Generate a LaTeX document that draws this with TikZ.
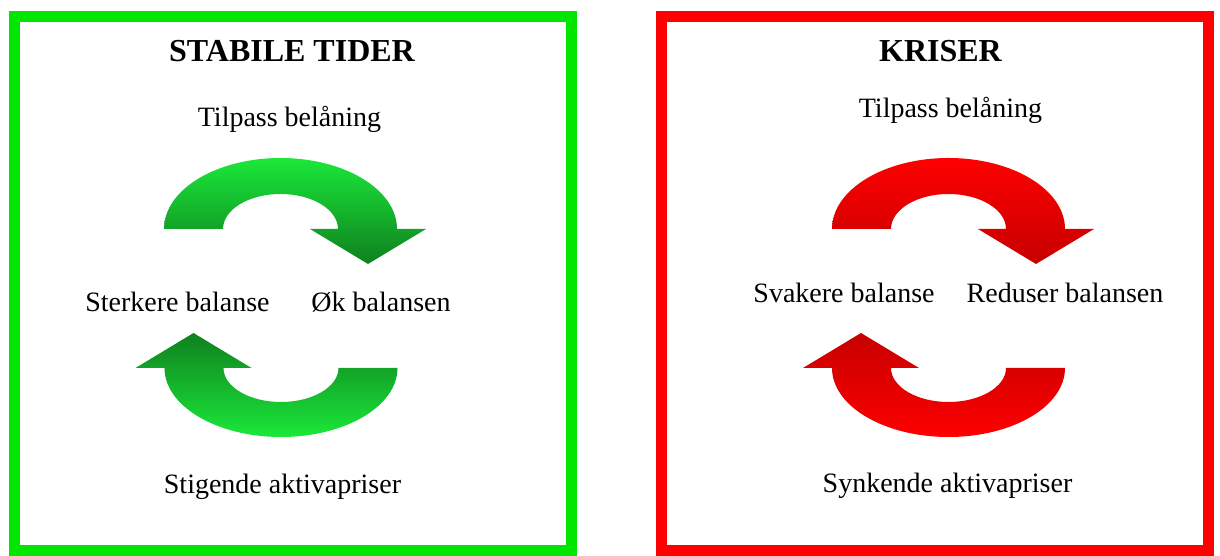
\documentclass[tikz,border=0pt]{standalone}
\usepackage{fontspec}
\setmainfont{Liberation Serif}
\definecolor{boxgreen}{RGB}{0,230,0}
\definecolor{boxred}{RGB}{255,0,0}
\definecolor{gLight}{RGB}{27,232,58}
\definecolor{gMid}{RGB}{25,216,53}
\definecolor{gDark}{RGB}{15,128,30}
\definecolor{rLight}{RGB}{255,0,0}
\definecolor{rMid}{RGB}{246,0,0}
\definecolor{rDark}{RGB}{198,0,0}
\tikzset{
  frame/.style={line width=11pt},
  label/.style={anchor=base, inner sep=0pt, font=\fontsize{28}{32}\selectfont},
  title/.style={anchor=base, inner sep=0pt, font=\fontsize{32}{36}\selectfont\bfseries},
  gdown/.style={top color=gLight, middle color=gMid, bottom color=gDark},
  gup/.style={top color=gDark, middle color=gMid, bottom color=gLight},
  rdown/.style={top color=rLight, middle color=rMid, bottom color=rDark},
  rup/.style={top color=rDark, middle color=rMid, bottom color=rLight},
}
\newcommand{\toparrow}[1]{%
  \shade[#1] (-116.5,0) arc[start angle=180,end angle=0,x radius=116.5,y radius=71]
    -- (145.5,0) -- (87.5,-35) -- (29.5,0) -- (57.5,0)
    arc[start angle=0,end angle=180,x radius=57.5,y radius=35] -- cycle;}
\newcommand{\bottomarrow}[1]{%
  \shade[#1] (116.5,0) arc[start angle=0,end angle=-180,x radius=116.5,y radius=69]
    -- (-145.5,0) -- (-87.5,35) -- (-29.5,0) -- (-57.5,0)
    arc[start angle=180,end angle=360,x radius=57.5,y radius=34] -- cycle;}
\begin{document}
\begin{tikzpicture}[x=1pt,y=1pt]
\useasboundingbox (0,0) rectangle (1220,556);
% frames
\draw[frame, boxgreen] (14,539) rectangle (571,5);
\draw[frame, boxred] (661,539) rectangle (1208,5);
% green panel
\node[title] (t1) at (292,494) {STABILE TIDER};
\node[label] (g1) at (289.5,429) {Tilpass belåning};
\node[label] (g2) at (177.5,244) {Sterkere balanse};
\node[label] (g3) at (381,244) {Øk balansen};
\node[label] (g4) at (282.5,62) {Stigende aktivapriser};
\begin{scope}[shift={(280.5,327)}]\toparrow{gdown}\end{scope}
\begin{scope}[shift={(281,188)}]\bottomarrow{gup}\end{scope}
% red panel
\node[title] (t2) at (940.5,494) {KRISER};
\node[label] (r1) at (950.5,438) {Tilpass belåning};
\node[label] (r2) at (844,253) {Svakere balanse};
\node[label] (r3) at (1065,253) {Reduser balansen};
\node[label] (r4) at (947.5,63) {Synkende aktivapriser};
\begin{scope}[shift={(948.5,327)}]\toparrow{rdown}\end{scope}
\begin{scope}[shift={(948.5,188)}]\bottomarrow{rup}\end{scope}
\end{tikzpicture}
\end{document}
